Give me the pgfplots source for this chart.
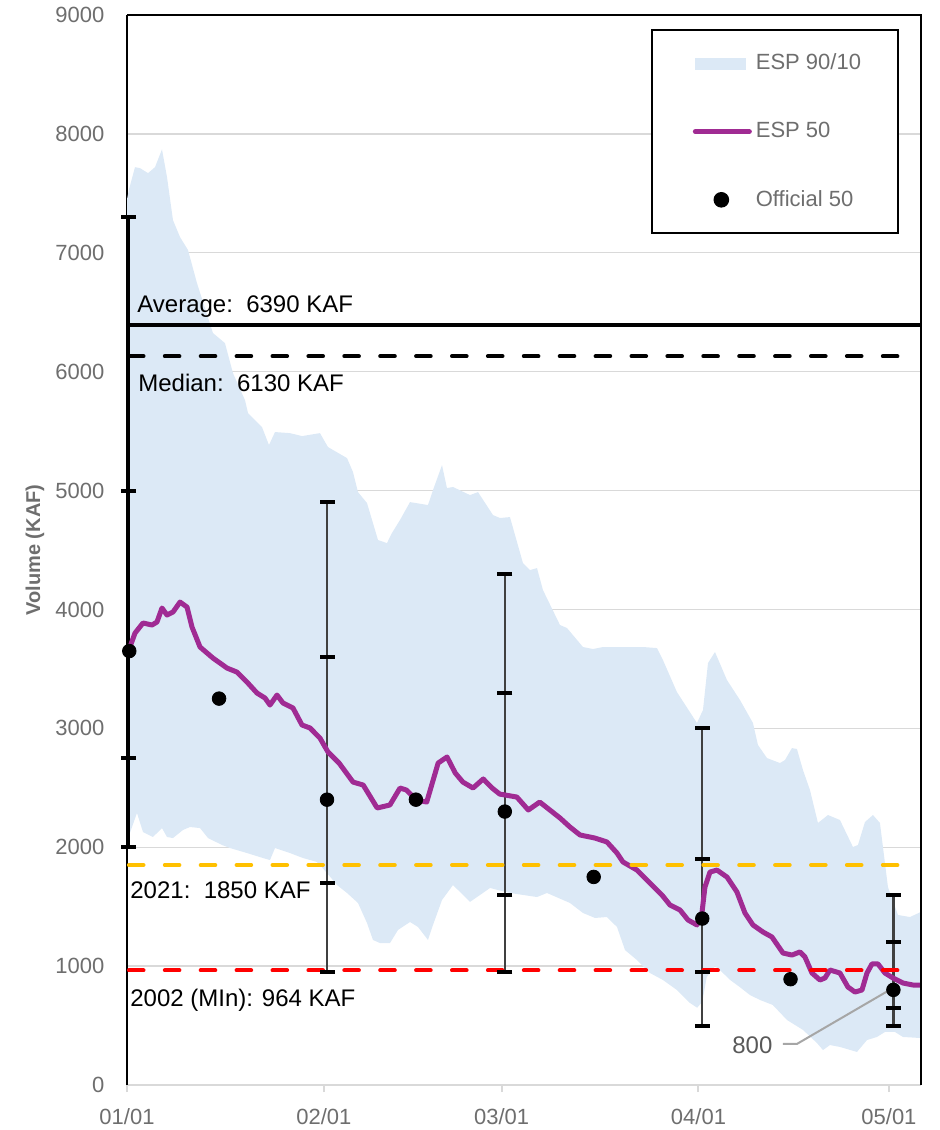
\documentclass[border=0pt]{standalone}
\usepackage{fontspec}
\setmainfont{Liberation Sans}
\usepackage{pgfplots}
\pgfplotsset{compat=1.18}
\usepgfplotslibrary{fillbetween}
\definecolor{band}{RGB}{220,233,246}
\definecolor{esp}{RGB}{160,43,147}
\definecolor{tickgray}{RGB}{110,110,110}
\definecolor{gridgray}{RGB}{217,217,217}
\definecolor{bargray}{RGB}{64,64,64}
\definecolor{gold}{RGB}{255,192,0}
\definecolor{leadgray}{RGB}{166,166,166}
\definecolor{labgray}{RGB}{89,89,89}

\begin{document}
\begin{tikzpicture}
\begin{axis}[
  at={(0pt,0pt)}, anchor=south west,
  scale only axis, width=396.85pt, height=535pt,
  xmin=0, xmax=125, ymin=0, ymax=9000,
  clip=false,
  axis x line*=bottom, axis y line*=left,
  x axis line style={draw=gridgray, line width=1.3pt},
  y axis line style={draw=black, line width=1pt},
  xtick={0,31,59,90,120}, xticklabels={01/01,02/01,03/01,04/01,05/01},
  ytick={0,1000,...,9000},
  ymajorgrids, grid style={draw=gridgray, line width=0.7pt},
  tick align=outside, major tick length=3.5pt,
  xtick style={draw=gridgray, line width=1pt},
  ytick style={draw=none},
  tick label style={font=\fontsize{11}{12}\selectfont, text=tickgray},
  /pgf/number format/assume math mode=true,
  /pgf/number format/1000 sep={},
  yticklabel style={xshift=-4.3pt},
  xticklabel style={inner sep=1pt, yshift=-7pt},
  ylabel={Volume (KAF)},
  ylabel style={font=\bfseries\fontsize{10}{12}\selectfont, text=tickgray, at={(axis description cs:-0.116,0.5)}, anchor=center},
  legend style={at={(rel axis cs:0.9727,0.9869)}, anchor=north east, draw=black, line width=1pt,
    inner xsep=16.5pt, inner ysep=10pt, row sep=20.75pt, fill=white,
    font=\fontsize{11}{12}\selectfont, text=tickgray, nodes={inner sep=2pt}},
  legend cell align=left,
]
% ESP 90/10 band
\addplot[name path=upper, draw=none, forget plot] table {
0 7450
0.3 7530
1.26 7720
2.05 7712
3.31 7670
4.41 7720
5.51 7870
6.30 7637
7.24 7275
8.35 7132
9.61 7023
11.02 6745
13.54 6325
15.43 6240
16.69 5988
18.58 5761
19.06 5652
19.84 5610
21.26 5534
22.36 5383
23.31 5492
25.67 5483
27.56 5458
30.39 5483
31.65 5366
34.65 5273
35.59 5156
36.38 4987
37.80 4895
39.53 4584
40.94 4558
41.73 4643
42.99 4752
44.57 4903
47.40 4878
48.19 5004
49.61 5214
50.39 5021
51.34 5030
54.02 4962
55.28 4987
57.64 4794
58.74 4769
60.31 4777
62.36 4390
63.46 4331
64.57 4348
65.51 4163
68.19 3869
69.29 3844
71.81 3684
73.39 3667
74.96 3684
81.26 3684
83.46 3675
84.41 3574
86.61 3305
89.76 3045
90.71 3154
91.50 3549
92.60 3642
94.49 3406
96.54 3238
98.58 3045
99.37 2860
100.79 2750
102.83 2708
103.62 2733
104.72 2834
105.51 2826
106.46 2649
107.56 2481
108.82 2204
110.39 2271
112.28 2229
114.33 2002
115.12 2019
116.22 2212
117.48 2271
118.58 2204
119.84 1665
121.42 1430
123.31 1413
125 1455
};
\addplot[name path=lower, draw=none, forget plot] table {
0 2050
0.79 2170
1.57 2288
2.52 2128
4.09 2086
5.51 2161
6.30 2086
7.24 2077
8.82 2145
9.92 2170
11.50 2161
12.76 2077
14.96 2019
16.22 1993
18.90 1951
21.42 1909
22.52 1892
23.31 1993
25.67 1951
27.72 1909
29.92 1876
31.50 1783
33.07 1682
34.65 1615
36.38 1531
37.80 1362
38.74 1220
39.84 1194
41.42 1194
42.68 1304
44.57 1371
45.83 1329
47.40 1220
48.19 1346
49.61 1556
51.34 1682
54.02 1540
55.59 1598
57.17 1657
60.31 1615
64.57 1581
66.14 1615
69.76 1531
71.81 1447
73.70 1405
75.59 1413
77.17 1329
78.43 1135
80.31 1051
82.36 942
84.41 883
86.61 799
88.66 690
89.80 650
90.60 700
91.30 908
92.60 1000
93.70 950
95.00 883
96.50 824
98.10 757
99.70 715
101.70 673
103.94 547
106.46 463
108.66 353
109.61 294
110.71 336
112.28 320
114.96 278
116.54 378
118.11 404
119.37 446
120.94 446
122.20 404
125 395
};
\addplot[band, draw=none,
  legend image code/.code={\path[draw=none,fill=none] (-5pt,0pt) -- (24.5pt,0pt); \fill[band] (0pt,-3pt) rectangle (25.5pt,3pt);}]
  fill between[of=upper and lower];
\addlegendentry{ESP 90/10}
% error bars
\addplot[black, line width=1.6pt, forget plot] coordinates {(0.25,2000) (0.25,7300)};
\addplot[bargray, line width=1.2pt, forget plot] coordinates {(31.5,950) (31.5,4900)};
\addplot[bargray, line width=1.2pt, forget plot] coordinates {(59.5,950) (59.5,4300)};
\addplot[bargray, line width=1.2pt, forget plot] coordinates {(90.6,500) (90.6,3000)};
\addplot[bargray, line width=1.2pt, forget plot] coordinates {(120.7,500) (120.7,1600)};
\addplot[only marks, mark=-, mark size=3.75pt, mark options={line width=2pt, black}, forget plot] coordinates {
(0.25,7300)(0.25,5000)(0.25,2750)(0.25,2000)
(31.5,4900)(31.5,3600)(31.5,1700)(31.5,950)
(59.5,4300)(59.5,3300)(59.5,1600)(59.5,950)
(90.6,3000)(90.6,1900)(90.6,950)(90.6,500)
(120.7,1600)(120.7,1200)(120.7,650)(120.7,500)};
% ESP 50
\addplot[esp, line width=2.5pt, line join=round,
  legend image code/.code={\path[draw=none,fill=none] (-5pt,0pt) -- (24.5pt,0pt); \draw[esp, line width=2.5pt, line cap=round] (0pt,0pt) -- (27pt,0pt);}]
  table {
0 3650
0.47 3684
1.26 3801
2.52 3886
3.94 3869
4.72 3894
5.51 4012
6.30 3953
7.24 3978
8.35 4062
9.45 4020
10.24 3852
11.50 3684
13.54 3591
15.75 3507
17.32 3473
18.90 3389
20.47 3297
21.73 3255
22.52 3196
23.62 3280
24.57 3213
26.14 3171
27.56 3028
28.82 3003
30.39 2918
31.65 2801
33.40 2708
35.60 2548
37.20 2523
39.40 2330
41.40 2355
43.00 2498
44.00 2481
45.60 2397
47.20 2380
49.00 2708
50.40 2759
51.70 2624
52.90 2548
54.50 2498
56.10 2574
57.50 2498
58.70 2447
61.40 2422
63.20 2313
65.00 2380
68.19 2246
69.76 2170
71.34 2103
73.70 2077
75.59 2044
77.17 1951
78.11 1876
80.31 1808
82.36 1699
84.25 1598
85.51 1514
87.09 1472
88.35 1388
89.76 1346
90.55 1447
91.02 1665
91.81 1791
92.91 1808
94.49 1749
96.06 1623
97.32 1447
98.58 1346
100.16 1287
101.57 1245
103.31 1110
104.72 1093
105.98 1119
106.77 1077
107.87 942
109.13 883
109.92 900
110.71 967
112.28 942
113.54 824
114.65 782
115.75 799
116.54 942
117.32 1018
118.27 1018
119.37 942
120.63 900
122.20 858
123.78 841
125 841
};
\addlegendentry{ESP 50}
% reference lines
\addplot[black, line width=2pt, forget plot] coordinates {(0,6390) (125,6390)};
\addplot[black, line width=2pt, line cap=round, dash pattern=on 7.3pt off 10.65pt, forget plot] coordinates {(0.3,6130) (122,6130)};
\addplot[gold, line width=2pt, line cap=round, dash pattern=on 7.3pt off 10.65pt, forget plot] coordinates {(0.3,1850) (122,1850)};
\addplot[red, line width=2pt, line cap=round, dash pattern=on 7.3pt off 10.65pt, forget plot] coordinates {(0.3,964) (122,964)};
% Official 50
\addplot[only marks, mark=*, mark size=3.4pt, black,
  legend image code/.code={\path[draw=none,fill=none] (-5pt,0pt) -- (24.5pt,0pt); \fill[black] (13pt,0pt) circle (3.4pt);}]
  coordinates {(0.36,3650) (14.5,3250) (31.5,2400) (45.5,2400) (59.5,2300) (73.5,1750) (90.6,1400) (104.5,890) (120.7,800)};
\addlegendentry{Official 50}
% frame top and right
\draw[black, line width=1pt] (rel axis cs:0,1) -- (rel axis cs:1,1) -- (rel axis cs:1,0);
% labels
\node[anchor=base west, inner sep=0, font=\fontsize{12}{14}\selectfont] at (axis cs:1.57,6501) {Average:\ \ 6390 KAF};
\node[anchor=base west, inner sep=0, font=\fontsize{12}{14}\selectfont] at (axis cs:1.73,5837) {Median:\ \ 6130 KAF};
\node[anchor=base west, inner sep=0, font=\fontsize{12}{14}\selectfont] at (axis cs:0.47,1570) {2021:\ \ 1850 KAF};
\node[anchor=base west, inner sep=0, font=\fontsize{12}{14}\selectfont] at (axis cs:0.47,664) {2002 (MIn): 964 KAF};
\draw[leadgray, line width=1pt] (axis cs:103.3,345) -- (axis cs:105.5,345) -- (axis cs:119.8,790);
\node[anchor=base east, inner sep=0, text=labgray, font=\fontsize{12}{14}\selectfont] at (axis cs:101.7,267) {800};
\end{axis}
\path (-63.5pt,-22.5pt) rectangle (406.5pt,542.5pt);
\end{tikzpicture}
\end{document}
